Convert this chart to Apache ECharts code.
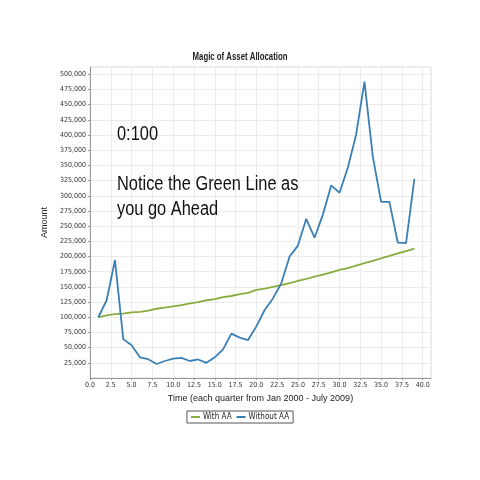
<!DOCTYPE html>
<html>
<head>
<meta charset="utf-8">
<script src="https://cdn.jsdelivr.net/npm/echarts@6/dist/echarts.min.js"></script>
<style>
  html, body { margin: 0; padding: 0; background: #fff; }
  #chart { width: 480px; height: 480px; }
</style>
</head>
<body>
<div id="chart"></div>
<script>
// quarters since Jan 2000
const quarters = [1, 2, 3, 4, 5, 6, 7, 8, 9, 10, 11, 12, 13, 14, 15, 16, 17, 18, 19, 20,
    21, 22, 23, 24, 25, 26, 27, 28, 29, 30, 31, 32, 33, 34, 35, 36, 37, 38, 39];

const withAA = [100000, 103000, 105000, 106000, 108000, 109000, 111000, 114000, 116000, 118000,
    120000, 123000, 125000, 128000, 130000, 133000, 135000, 138000, 140000, 145000,
    147000, 150000, 153000, 156000, 160000, 163000, 167000, 170000, 174000, 178000,
    181000, 185000, 189000, 193000, 197000, 201000, 205000, 209000, 213000];

const withoutAA = [100000, 128000, 194000, 64000, 54000, 34000, 31000, 23000, 28000, 32000,
    33000, 28000, 30500, 25000, 34000, 47000, 73000, 66500, 62500, 85000,
    112000, 131000, 156000, 200000, 218000, 262000, 231000, 269000, 317000, 305000,
    346000, 401000, 488000, 365000, 290000, 290000, 223000, 222000, 328000];

const seriesNames = ['With AA', 'Without AA'];

const condensed = "'DejaVu Sans Condensed', sans-serif";
const arial = "'Liberation Sans', Arial, sans-serif";

document.addEventListener('DOMContentLoaded', function() {
    const chart = echarts.init(document.getElementById('chart'));

    const pair = (xs, ys) => xs.map((x, i) => [x, ys[i]]);

    const option = {
        backgroundColor: '#fff',
        animation: false,
        legend: {
            data: seriesNames,
            bottom: 57,
            left: 'center',
            itemWidth: 9,
            itemHeight: 2,
            itemGap: 5,
            icon: 'rect',
            padding: [2, 4],
            borderColor: '#555',
            borderWidth: 1,
            borderRadius: 0,
            textStyle: { fontFamily: condensed, fontSize: 8, color: '#222', padding: [0, 0, 0, -2] }
        },
        grid: {
            left: 90,
            right: 49,
            top: 67,
            bottom: 102,
            show: true,
            borderColor: '#ddd',
            borderWidth: 1
        },
        xAxis: {
            type: 'value',
            min: 0,
            max: 41,
            interval: 2.5,
            name: 'Time (each quarter from Jan 2000 - July 2009)',
            nameLocation: 'middle',
            nameGap: 15,
            nameTextStyle: { fontFamily: arial, fontSize: 9, color: '#222' },
            axisLine: { onZero: false, lineStyle: { color: '#999' } },
            axisTick: { length: 2, lineStyle: { color: '#999' } },
            axisLabel: {
                margin: 4,
                fontFamily: condensed,
                fontSize: 7,
                color: '#333',
                showMaxLabel: false,
                formatter: v => v.toFixed(1)
            },
            splitLine: { lineStyle: { color: '#ececec' } }
        },
        yAxis: {
            type: 'value',
            min: 0,
            max: 512000,
            interval: 25000,
            name: 'Amount',
            nameLocation: 'middle',
            nameGap: 30,
            nameTextStyle: { fontFamily: arial, fontSize: 9, color: '#222' },
            axisLine: { show: true, lineStyle: { color: '#999' } },
            axisTick: { show: true, length: 2, lineStyle: { color: '#999' } },
            axisLabel: {
                margin: 4,
                fontFamily: condensed,
                fontSize: 7,
                color: '#333',
                showMinLabel: false,
                showMaxLabel: false,
                formatter: v => v.toLocaleString('en-US')
            },
            splitLine: { lineStyle: { color: '#ececec' } }
        },
        graphic: [
            {
                type: 'text', x: 240, y: 52, scaleX: 0.78, z: 100,
                style: { text: 'Magic of Asset Allocation', font: "bold 10px " + arial, fill: '#222', align: 'center' }
            },
            {
                type: 'text', x: 117, y: 124, scaleX: 0.82, z: 100,
                style: { text: '0:100', font: "20px " + arial, fill: '#111' }
            },
            {
                type: 'text', x: 117, y: 172, scaleX: 0.82, z: 100,
                style: { text: 'Notice the Green Line as\nyou go Ahead', font: "20px " + arial, fill: '#111', lineHeight: 25 }
            }
        ],
        series: [
            {
                name: seriesNames[0],
                type: 'line',
                data: pair(quarters, withAA),
                showSymbol: false,
                lineStyle: { color: '#8aab3e', width: 1.8 },
                itemStyle: { color: '#8aab3e' }
            },
            {
                name: seriesNames[1],
                type: 'line',
                data: pair(quarters, withoutAA),
                showSymbol: false,
                lineStyle: { color: '#3a80b5', width: 1.8 },
                itemStyle: { color: '#3a80b5' }
            }
        ]
    };

    chart.setOption(option);
});
</script>
</body>
</html>
